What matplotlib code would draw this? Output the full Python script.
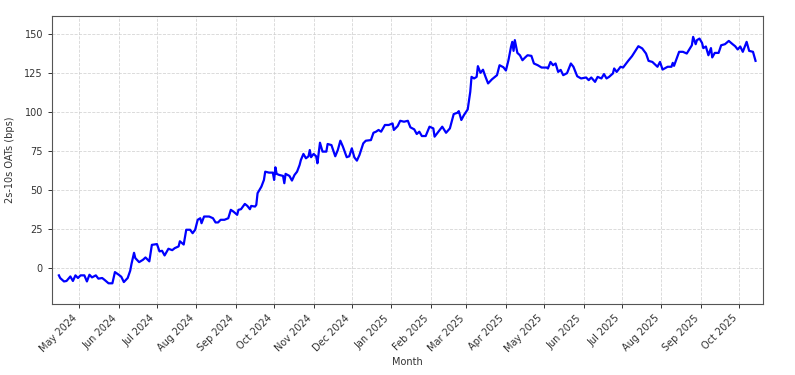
import matplotlib
matplotlib.use("Agg")
import matplotlib.pyplot as plt
import matplotlib.dates as mdates
import pandas as pd

dates = [
    "2024-04-15", "2024-04-16", "2024-04-19", "2024-04-21", "2024-04-24", "2024-04-26",
    "2024-04-28", "2024-04-30", "2024-05-02", "2024-05-05", "2024-05-07", "2024-05-09",
    "2024-05-11", "2024-05-14", "2024-05-16", "2024-05-19", "2024-05-21", "2024-05-24",
    "2024-05-27", "2024-05-29", "2024-06-01", "2024-06-03", "2024-06-05", "2024-06-08",
    "2024-06-10", "2024-06-11", "2024-06-13", "2024-06-14", "2024-06-17", "2024-06-20",
    "2024-06-22", "2024-06-25", "2024-06-27", "2024-07-01", "2024-07-03", "2024-07-05",
    "2024-07-07", "2024-07-10", "2024-07-13", "2024-07-15", "2024-07-18", "2024-07-19",
    "2024-07-22", "2024-07-24", "2024-07-27", "2024-07-29", "2024-07-31", "2024-08-02",
    "2024-08-04", "2024-08-05", "2024-08-07", "2024-08-11", "2024-08-14", "2024-08-16",
    "2024-08-18", "2024-08-20", "2024-08-23", "2024-08-26", "2024-08-28", "2024-08-30",
    "2024-09-02", "2024-09-03", "2024-09-05", "2024-09-08", "2024-09-10", "2024-09-12",
    "2024-09-13", "2024-09-16", "2024-09-17", "2024-09-18", "2024-09-21", "2024-09-23",
    "2024-09-24", "2024-09-27", "2024-09-30", "2024-10-01", "2024-10-02", "2024-10-03",
    "2024-10-05", "2024-10-08", "2024-10-09", "2024-10-10", "2024-10-13", "2024-10-15",
    "2024-10-17", "2024-10-19", "2024-10-21", "2024-10-22", "2024-10-24", "2024-10-26",
    "2024-10-28", "2024-10-29", "2024-10-30", "2024-11-01", "2024-11-03", "2024-11-04",
    "2024-11-06", "2024-11-08", "2024-11-11", "2024-11-12", "2024-11-15", "2024-11-18",
    "2024-11-20", "2024-11-22", "2024-11-24", "2024-11-27", "2024-11-29", "2024-12-01",
    "2024-12-03", "2024-12-05", "2024-12-07", "2024-12-10", "2024-12-12", "2024-12-16",
    "2024-12-18", "2024-12-20", "2024-12-22", "2024-12-24", "2024-12-27", "2024-12-30",
    "2025-01-02", "2025-01-03", "2025-01-06", "2025-01-08", "2025-01-11", "2025-01-14",
    "2025-01-16", "2025-01-19", "2025-01-21", "2025-01-23", "2025-01-25", "2025-01-28",
    "2025-01-31", "2025-02-03", "2025-02-04", "2025-02-07", "2025-02-10", "2025-02-13",
    "2025-02-16", "2025-02-19", "2025-02-22", "2025-02-23", "2025-02-25", "2025-02-27",
    "2025-03-02", "2025-03-04", "2025-03-05", "2025-03-07", "2025-03-09", "2025-03-10",
    "2025-03-12", "2025-03-14", "2025-03-16", "2025-03-18", "2025-03-21", "2025-03-25",
    "2025-03-27", "2025-03-30", "2025-04-01", "2025-04-03", "2025-04-05", "2025-04-06",
    "2025-04-07", "2025-04-08", "2025-04-10", "2025-04-12", "2025-04-14", "2025-04-16",
    "2025-04-18", "2025-04-21", "2025-04-23", "2025-04-26", "2025-04-29", "2025-05-03",
    "2025-05-04", "2025-05-06", "2025-05-08", "2025-05-10", "2025-05-12", "2025-05-14",
    "2025-05-16", "2025-05-19", "2025-05-22", "2025-05-24", "2025-05-27", "2025-05-30",
    "2025-06-03", "2025-06-05", "2025-06-07", "2025-06-10", "2025-06-12", "2025-06-15",
    "2025-06-17", "2025-06-19", "2025-06-21", "2025-06-24", "2025-06-25", "2025-06-27",
    "2025-06-30", "2025-07-02", "2025-07-06", "2025-07-09", "2025-07-12", "2025-07-14",
    "2025-07-17", "2025-07-20", "2025-07-22", "2025-07-25", "2025-07-29", "2025-07-31",
    "2025-08-02", "2025-08-06", "2025-08-09", "2025-08-10", "2025-08-11", "2025-08-15",
    "2025-08-18", "2025-08-21", "2025-08-23", "2025-08-25", "2025-08-26", "2025-08-28",
    "2025-08-29", "2025-08-31", "2025-09-02", "2025-09-03", "2025-09-05", "2025-09-07",
    "2025-09-09", "2025-09-10", "2025-09-12", "2025-09-15", "2025-09-17", "2025-09-20",
    "2025-09-23", "2025-09-26", "2025-09-28", "2025-09-30", "2025-10-02", "2025-10-04",
    "2025-10-07", "2025-10-09", "2025-10-12", "2025-10-14",
]

spread_bps = [
    -4.9, -6.6, -8.8, -8.5, -5.6, -8.5,
    -4.9, -6.6, -4.9, -4.9, -8.8, -4.5,
    -6.2, -4.9, -7.0, -6.6, -7.9, -10.0,
    -10.0, -2.8, -4.5, -5.8, -9.2, -6.6,
    -1.9, 2.4, 9.6, 6.2, 3.6, 5.1,
    6.6, 4.1, 14.7, 15.2, 10.5, 10.9,
    7.9, 12.2, 11.3, 12.6, 13.7, 17.0,
    14.9, 24.4, 24.4, 22.2, 24.4, 30.8,
    31.8, 28.6, 32.9, 32.9, 31.8, 29.1,
    29.1, 30.8, 30.8, 31.8, 37.2, 36.1,
    34.0, 37.2, 37.6, 41.0, 39.7, 37.6,
    39.7, 39.3, 40.4, 47.9, 52.1, 56.4,
    61.7, 61.1, 61.1, 56.4, 64.5, 60.3,
    59.6, 59.0, 54.3, 60.3, 59.0, 56.0,
    59.6, 61.7, 66.0, 69.2, 73.1, 70.3,
    71.6, 75.6, 71.0, 73.1, 71.6, 67.1,
    80.3, 74.6, 74.6, 79.5, 78.8, 71.6,
    75.6, 81.6, 77.8, 71.0, 71.6, 76.7,
    70.9, 68.8, 72.4, 79.9, 81.6, 82.0,
    86.7, 87.4, 88.5, 87.4, 91.7, 91.7,
    92.7, 88.5, 91.0, 94.4, 93.8, 94.4,
    90.2, 88.9, 85.9, 87.4, 84.6, 84.6,
    90.6, 89.5, 84.2, 87.4, 90.6, 86.7,
    89.5, 98.7, 99.6, 100.6, 94.9, 98.0,
    101.7, 113.0, 122.6, 121.6, 122.6, 129.5,
    125.2, 127.2, 122.6, 118.4, 121.0, 123.7,
    130.1, 128.8, 126.7, 133.3, 141.9, 145.1,
    139.3, 146.2, 138.0, 136.5, 133.3, 135.0,
    136.5, 136.1, 131.2, 130.1, 128.6, 128.6,
    128.0, 132.2, 130.1, 131.2, 125.8, 127.1,
    123.7, 125.0, 131.2, 129.1, 123.0, 121.6,
    122.2, 120.5, 122.2, 119.4, 122.6, 121.6,
    124.4, 121.6, 122.6, 124.8, 128.0, 125.8,
    129.1, 128.6, 132.9, 135.9, 139.7, 142.3,
    140.9, 137.6, 132.9, 132.2, 129.1, 132.2,
    127.3, 129.1, 129.1, 131.6, 129.7, 138.7,
    138.7, 137.6, 140.2, 142.9, 148.3, 143.6,
    146.2, 147.2, 144.4, 141.1, 142.1, 136.5,
    141.1, 135.1, 138.0, 138.0, 142.9, 143.6,
    145.7, 143.6, 142.3, 140.2, 142.1, 138.7,
    145.1, 139.3, 138.7, 132.9,
]

y_label = "2s-10s OATs (bps)"
x_label = "Month"

x = pd.to_datetime(dates)

fig = plt.figure(figsize=(7.95, 3.75), dpi=100)
ax = fig.add_axes([0.0654, 0.1893, 0.8943, 0.768])
ax.plot(x, spread_bps, color="blue", linewidth=1.6)

ax.set_xlim(pd.Timestamp("2024-04-09 14:00"), pd.Timestamp("2025-10-19 20:00"))
ax.set_ylim(-23.3, 161.7)
ax.set_yticks([0, 25, 50, 75, 100, 125, 150])
ax.xaxis.set_major_locator(mdates.MonthLocator())
ax.xaxis.set_major_formatter(mdates.DateFormatter("%b %Y"))
plt.setp(ax.get_xticklabels(), rotation=45, ha="right", rotation_mode="default")
ax.tick_params(labelsize=7, length=3, width=0.7, colors="#333333")
ax.grid(True, linestyle="--", color="#cccccc", linewidth=0.6, alpha=0.8)
for s in ax.spines.values():
    s.set_color("#555555")
    s.set_linewidth(0.8)
ax.set_xlabel(x_label, fontsize=7, color="#333333", labelpad=2)
ax.set_ylabel(y_label, fontsize=7, color="#333333", labelpad=7)

fig.savefig("out.png", dpi=100)
